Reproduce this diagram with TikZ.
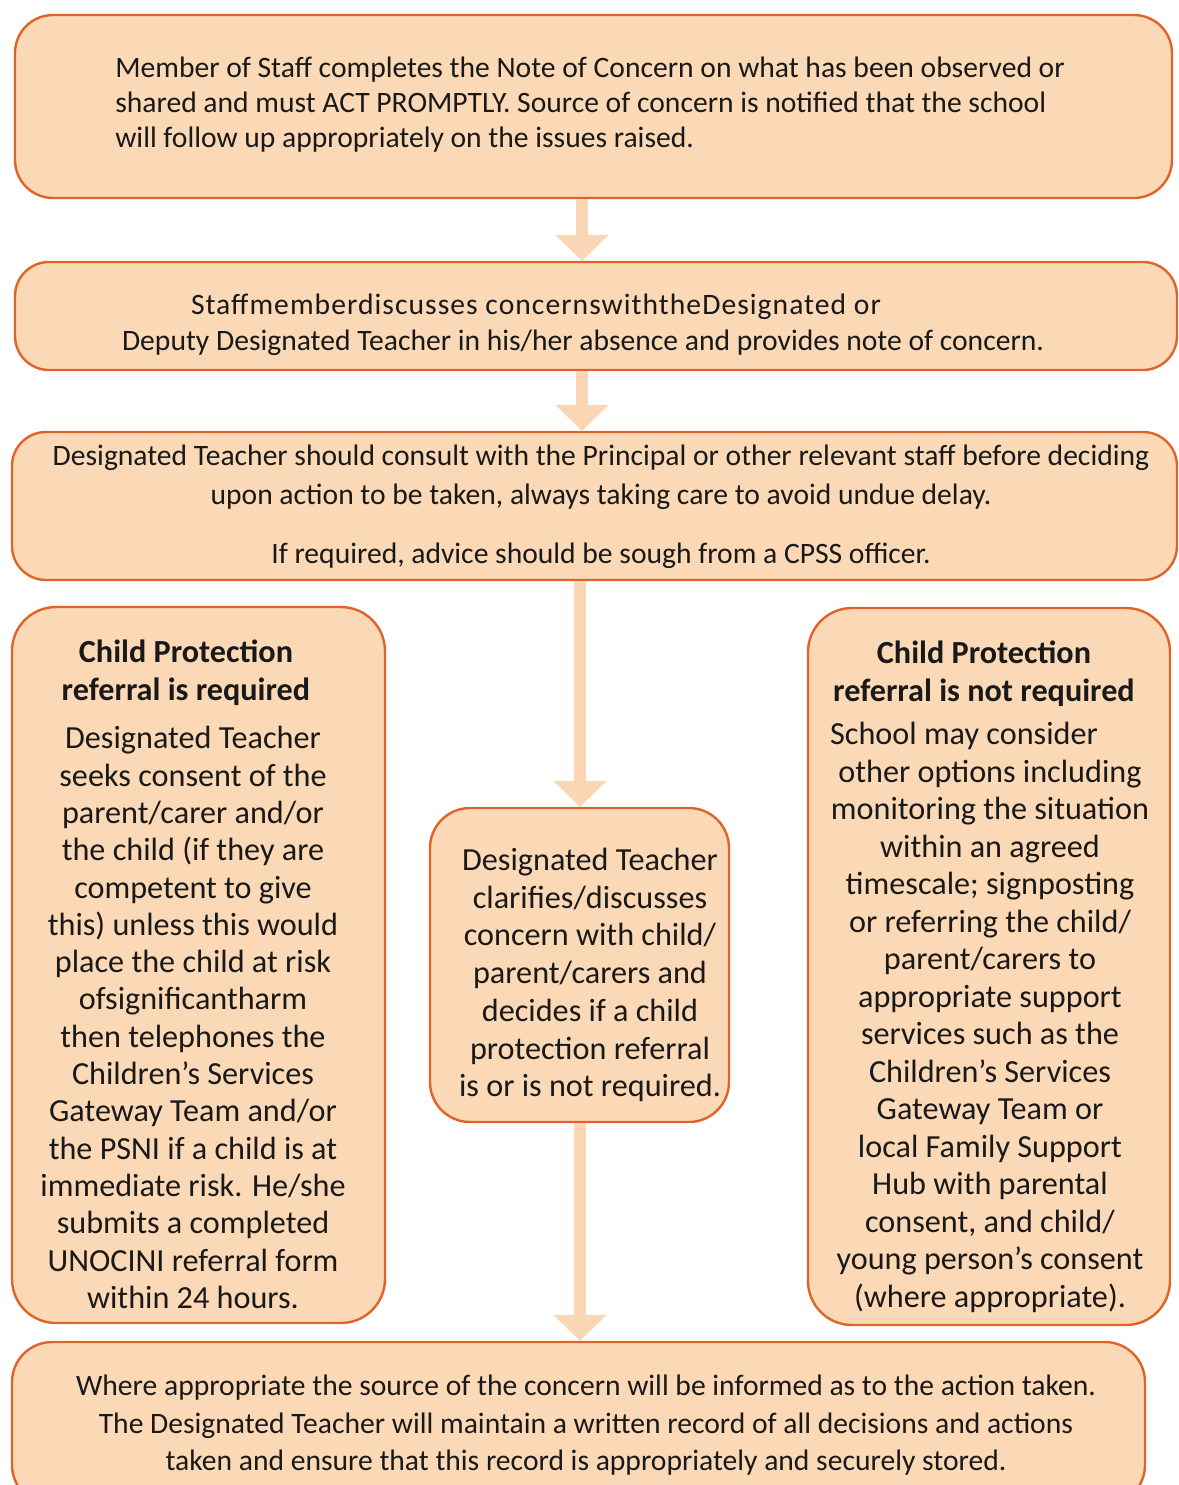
\documentclass[tikz,border=0pt]{standalone}
\usepackage{fontspec}
\setmainfont{Carlito}
\usetikzlibrary{arrows.meta}
\definecolor{boxfill}{RGB}{251,216,182}
\definecolor{boxline}{RGB}{224,100,40}
\definecolor{arrowc}{RGB}{250,214,180}
\tikzset{
  box/.style={draw=boxline, line width=1.2pt, fill=boxfill, rounded corners=19pt, inner sep=0pt},
  txt/.style={inner sep=0pt, font=\fontsize{14.8}{18}\selectfont, text=black!90},
  side/.style={inner sep=0pt, align=center, text=black!90},
  flow/.style={draw=arrowc, line width=6pt, -{Triangle[width=26pt,length=13pt]}}
}
\begin{document}
\begin{tikzpicture}[x=0.5pt,y=-0.5pt]
\useasboundingbox (0,0) rectangle (1179,1485);
% boxes
\node[box, minimum width=578.5pt, minimum height=91.5pt] (b1) at (593.5,106.5) {};
\node[box, minimum width=581pt, minimum height=54pt, rounded corners=17pt] (b2) at (596,316) {};
\node[box, minimum width=582.5pt, minimum height=74pt, rounded corners=17pt] (b3) at (594.5,506) {};
\node[box, minimum width=186.5pt, minimum height=358pt, rounded corners=22pt] (bl) at (198.5,965) {};
\node[box, minimum width=181pt, minimum height=358.5pt, rounded corners=22pt] (br) at (989,966.5) {};
\node[box, minimum width=149.5pt, minimum height=157pt, rounded corners=20pt] (bm) at (579.5,965) {};
\node[box, minimum width=566.5pt, minimum height=81.5pt, rounded corners=20pt] (bb) at (578.5,1423.5) {};
% arrow columns
\coordinate (ax1) at (582,0);
\coordinate (ax2) at (580,0);
\draw[flow] (b1.south -| ax1) -- (b2.north -| ax1);
\draw[flow] (b2.south -| ax1) -- (b3.north -| ax1);
\draw[flow] (b3.south -| ax2) -- (bm.north -| ax2);
\draw[flow] (bm.south -| ax2) -- (bb.north -| ax2);
% texts
\node[txt, align=left, font=\fontsize{14.8}{17.5}\selectfont] (t1) at (590,105) {Member of Staff completes the Note of Concern on what has been observed or\\
shared and must ACT PROMPTLY. Source of concern is notified that the school\\
will follow up appropriately on the issues raised.};
\node[txt, align=left] (t2) at (583,325) {\hspace*{34.5pt}{\addfontfeatures{LetterSpace=3.5}Staffmemberdiscusses concernswiththeDesignated or}\\
Deputy Designated Teacher in his/her absence and provides note of concern.};
\node[txt, align=center, font=\fontsize{14.8}{19.5}\selectfont] (t3) at (601,507) {Designated Teacher should consult with the Principal or other relevant staff before deciding\\
upon action to be taken, always taking care to avoid undue delay.\\[10pt]
If required, advice should be sough from a CPSS officer.};
\node[side, font=\fontsize{16.1}{19}\bfseries\selectfont] (hl) at (186,673) {Child Protection\\referral is required};
\node[side, font=\fontsize{16.1}{18.65}\selectfont] (tl) at (193,1017.5) {Designated Teacher\\
seeks consent of the\\
parent/carer and/or\\
the child (if they are\\
competent to give\\
this) unless this would\\
place the child at risk\\
ofsignificantharm\\
then telephones the\\
Children’s Services\\
Gateway Team and/or\\
the PSNI if a child is at\\
immediate risk. He/she\\
submits a completed\\
UNOCINI referral form\\
within 24 hours.};
\node[side, font=\fontsize{16.1}{18.85}\selectfont] (tm) at (590,975) {Designated Teacher\\
clarifies/discusses\\
concern with child/\\
parent/carers and\\
decides if a child\\
protection referral\\
is or is not required.};
\node[side, font=\fontsize{16.1}{19}\bfseries\selectfont] (hr) at (984,674) {Child Protection\\referral is not required};
\node[side, font=\fontsize{16.1}{18.75}\selectfont] (tr) at (990,1017.5) {School may consider\hspace*{26pt}\\
other options including\\
monitoring the situation\\
within an agreed\\
timescale; signposting\\
or referring the child/\\
parent/carers to\\
appropriate support\\
services such as the\\
Children’s Services\\
Gateway Team or\\
local Family Support\\
Hub with parental\\
consent, and child/\\
young person’s consent\\
(where appropriate).};
\node[txt, align=center, font=\fontsize{14.8}{18.75}\selectfont] (tb) at (586,1425.5) {Where appropriate the source of the concern will be informed as to the action taken.\\
The Designated Teacher will maintain a written record of all decisions and actions\\
taken and ensure that this record is appropriately and securely stored.};
\end{tikzpicture}
\end{document}
